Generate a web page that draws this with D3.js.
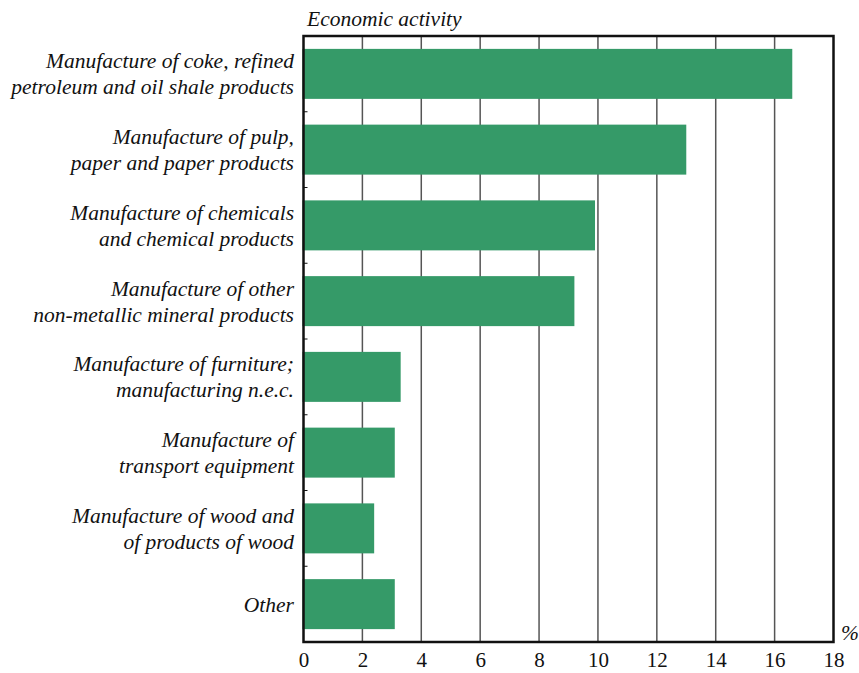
<!DOCTYPE html>
<html>
<head>
<meta charset="utf-8">
<script src="https://d3js.org/d3.v7.min.js"></script>
<style>
  body { margin: 0; background: #fff; }
</style>
</head>
<body>
<svg id="chart" width="859" height="673"></svg>
<script>
const categories = [
  ["Manufacture of coke, refined", "petroleum and oil shale products"],
  ["Manufacture of pulp,", "paper and paper products"],
  ["Manufacture of chemicals", "and chemical products"],
  ["Manufacture of other", "non-metallic mineral products"],
  ["Manufacture of furniture;", "manufacturing n.e.c."],
  ["Manufacture of", "transport equipment"],
  ["Manufacture of wood and", "of products of wood"],
  ["Other"]
];
const values = [16.6, 13.0, 9.9, 9.2, 3.3, 3.1, 2.4, 3.1];
const xTicks = [0, 2, 4, 6, 8, 10, 12, 14, 16, 18];
const yTitle = "Economic activity";
const xUnit = "%";

(function () {
const FONT = "Liberation Serif";
const svg = d3.select("#chart");
const pL = 303.5, pR = 833.5, pT = 36, pB = 642;

const x = d3.scaleLinear().domain([0, 18]).range([pL, pR]);
const y = d3.scaleBand().domain(d3.range(categories.length)).range([pT, pB]).paddingInner(0.34).paddingOuter(0.17);

// gridlines
svg.append("g").selectAll("line").data(xTicks.filter(d => d > 0 && d < 18)).join("line")
  .attr("x1", d => x(d)).attr("x2", d => x(d))
  .attr("y1", pT).attr("y2", pB)
  .attr("stroke", "#555").attr("stroke-width", 1.5);

// bars
svg.append("g").selectAll("rect").data(values).join("rect")
  .attr("x", x(0) - 1)
  .attr("y", (d, i) => y(i))
  .attr("width", d => x(d) - x(0) + 1)
  .attr("height", y.bandwidth())
  .attr("fill", "#359a68");

// frame
svg.append("rect")
  .attr("x", pL).attr("y", pT)
  .attr("width", pR - pL).attr("height", pB - pT)
  .attr("fill", "none").attr("stroke", "#111").attr("stroke-width", 2.5);

// category separator ticks on left axis
svg.append("g").selectAll("line").data(d3.range(1, categories.length)).join("line")
  .attr("x1", pL).attr("x2", pL + 4)
  .attr("y1", i => pT + i * (pB - pT) / categories.length)
  .attr("y2", i => pT + i * (pB - pT) / categories.length)
  .attr("stroke", "#111").attr("stroke-width", 1);

// x axis labels
const xAxis = d3.axisBottom(x).tickValues(xTicks).tickSize(0).tickPadding(10).tickFormat(d3.format("d"));
const gx = svg.append("g").attr("transform", `translate(0,${pB})`).call(xAxis);
gx.attr("font-family", FONT).attr("font-size", 21);
gx.select(".domain").remove();
gx.selectAll("text").attr("fill", "#111").attr("font-family", FONT).attr("font-size", 21);

// category labels
const lineH = 26;
const gl = svg.append("g");
categories.forEach((lines, i) => {
  const cy = y(i) + y.bandwidth() / 2;
  const n = lines.length;
  const t = gl.append("text")
    .attr("x", 294)
    .attr("text-anchor", "end")
    .attr("fill", "#111")
    .attr("font-family", FONT)
    .attr("font-size", 21.5)
    .attr("font-style", "italic");
  lines.forEach((ln, j) => {
    t.append("tspan").attr("x", 294)
      .attr("y", cy + (j - (n - 1) / 2) * lineH + 7.5)
      .text(ln);
  });
});

// title
svg.append("text").attr("x", 307).attr("y", 26).attr("fill", "#111")
  .attr("font-family", FONT)
  .attr("font-size", 21.5).attr("font-style", "italic").text(yTitle);

// unit
svg.append("text").attr("x", 841).attr("y", 640).attr("fill", "#111")
  .attr("font-family", FONT)
  .attr("font-size", 21.5).attr("font-style", "italic").text(xUnit);
})();
</script>
</body>
</html>
